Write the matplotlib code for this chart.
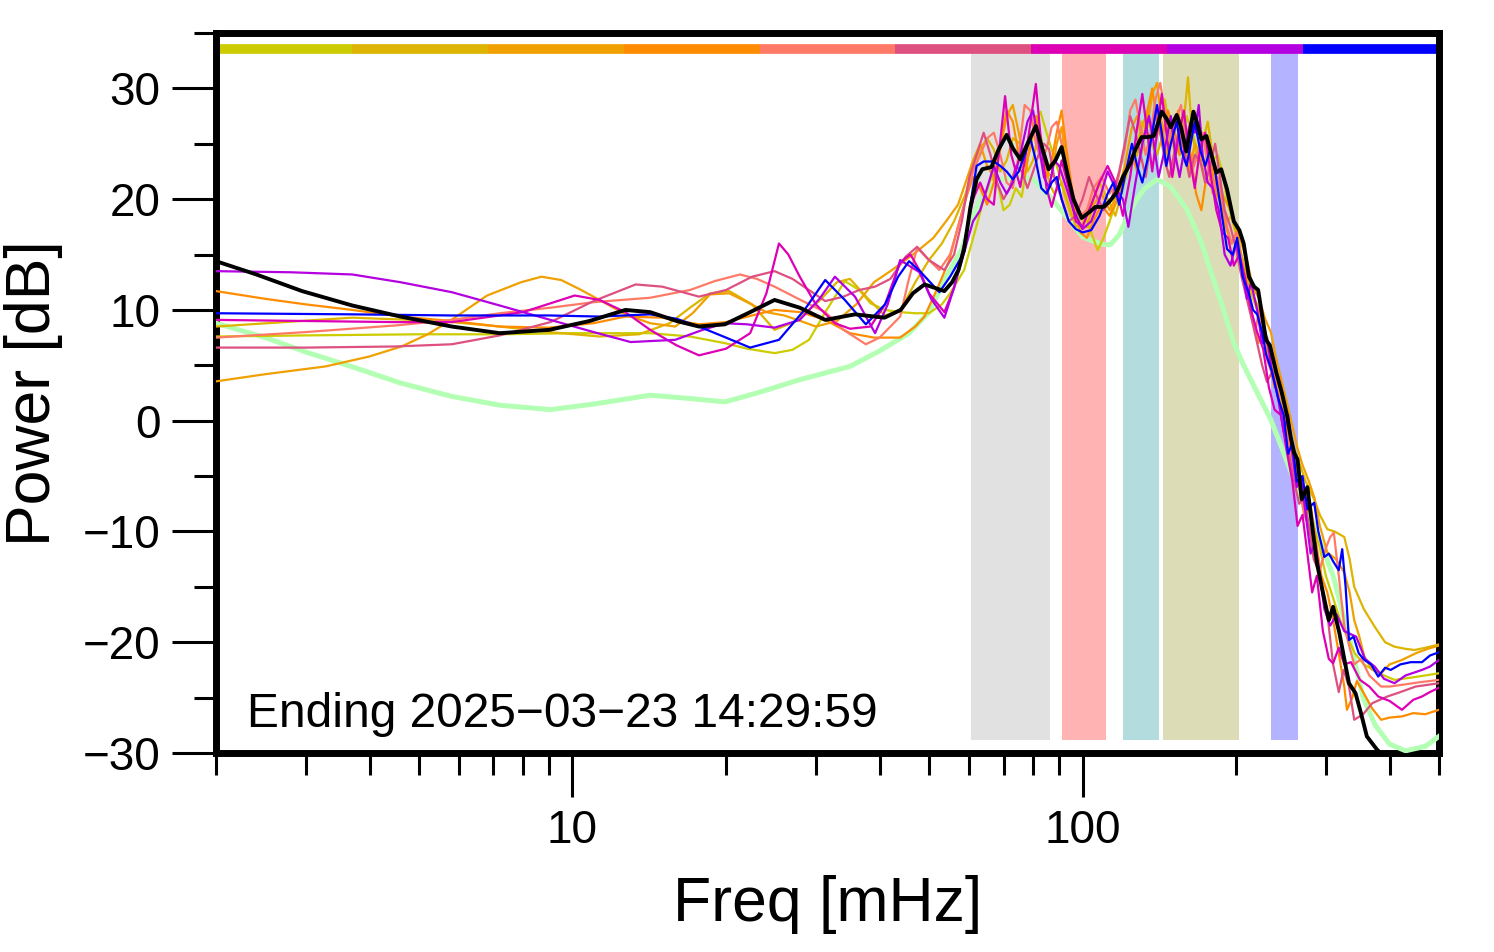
import numpy as np
import matplotlib
matplotlib.use("Agg")
import matplotlib.pyplot as plt
from matplotlib.ticker import FixedLocator, NullFormatter

plt.rcParams['font.family'] = ['Liberation Sans', 'DejaVu Sans']

# ---------------- data (freq in mHz, power in dB) ----------------
black_f = [2.0, 2.4, 2.95, 3.7, 4.6, 5.8, 7.2, 9.0, 10.8, 12.7, 14.2, 16, 17.7, 19.9, 22.3, 24.9, 27.9,
           31.3, 35.8, 40.9, 44, 46.5, 49, 53.6, 55.5, 57.1, 58.6, 60.3, 62, 63.6, 66.3, 68.5, 71, 73,
           75.5, 78, 81, 83.5, 85.8, 88.5, 91, 93.5, 96, 99.6, 103, 106, 110, 113, 116.6, 120, 124.3,
           127, 130.6, 134, 138, 143, 146, 149, 153, 156, 159.8, 162, 165, 168, 171, 175, 179, 183,
           187, 192, 198, 203, 207, 212, 217, 221, 225, 229, 233, 240, 246, 252, 256, 260, 264, 269,
           276, 282, 288, 296, 304, 310, 319, 326, 333, 343, 352, 361, 378, 395]
black_db = [14.4, 13.2, 11.7, 10.4, 9.4, 8.5, 7.9, 8.2, 9.0, 10.0, 9.8, 9.0, 8.5, 8.7, 9.8, 10.9, 10.2,
            9.1, 9.6, 9.3, 10.0, 11.5, 12.3, 11.7, 12.5, 13.6, 15.5, 19.3, 21.8, 22.7, 22.9, 24.5, 25.8,
            24.6, 23.6, 25.0, 26.6, 24.5, 22.7, 23.5, 24.7, 22.2, 20.0, 18.3, 18.8, 19.3, 19.3, 19.8,
            20.6, 22.0, 23.3, 24.5, 25.6, 25.6, 25.7, 27.9, 27.3, 26.5, 27.6, 26.5, 24.3, 25.8, 27.9,
            26.8, 25.4, 25.7, 24.0, 22.4, 22.7, 20.9, 18.0, 17.2, 16.0, 13.0, 12.1, 11.8, 9.5, 7.3,
            6.8, 4.3, 2.5, 0.4, -1.5, -2.9, -3.5, -7.1, -6.0, -9.5, -12.8, -15.5, -18.0, -16.8, -19.2,
            -21.5, -23.7, -24.6, -26.5, -28.5, -29.7, -30.5]

green_f = [2.0, 2.5, 3.0, 3.68, 4.6, 5.79, 7.2, 9.05, 11, 14.2, 17, 19.9, 23, 27.9, 35, 40, 45.7, 50,
           54, 58, 61, 64, 69, 75.5, 80, 86.5, 93, 100, 105, 110, 113.5, 118, 122, 127, 132, 140, 149,
           160, 171, 178, 186, 198, 207, 217, 234, 248, 263, 285, 310, 335, 355, 375, 400, 430, 470, 500]
green_db = [8.8, 7.5, 6.2, 4.9, 3.4, 2.2, 1.4, 1.0, 1.5, 2.3, 2.0, 1.7, 2.5, 3.7, 4.9, 6.3, 7.9, 9.8,
            13.0, 15.5, 18.5, 20.5, 21.8, 22.0, 21.8, 20.2, 18.4, 16.6, 16.2, 15.9, 15.9, 16.8, 18.2,
            19.8, 20.9, 21.8, 21.1, 19.1, 16.1, 13.6, 11.0, 7.0, 5.0, 3.1, 0.1, -2.9, -6.0, -9.5, -14.0,
            -20.0, -25.0, -27.5, -29.2, -29.8, -29.4, -28.5]

ygreen_f = [2, 3, 5, 7.2, 10, 14.2, 17, 19.9, 22, 24.9, 27, 29.1, 31.5, 34.2, 36.5, 38.4, 41, 43.9, 47,
            50, 53, 55, 58.6, 61.9, 64, 66.3, 68.5, 70, 72, 74, 76, 78, 80, 82.7, 85, 87, 89.8, 92, 95,
            98, 101, 104, 107, 110, 113, 116, 120, 124, 128, 131, 134, 138, 142, 145, 148, 152, 156,
            160, 164, 168, 172, 176, 180, 184, 188, 192, 197, 202, 207, 212, 218, 224, 230, 236, 242,
            248, 254, 260, 268, 276, 284, 292, 300, 310, 320, 330, 342, 356, 372, 390, 409, 440, 470, 500]
ygreen_db = [7.6, 7.7, 7.8, 7.8, 7.9, 7.9, 7.6, 7.0, 6.5, 6.1, 6.4, 7.3, 10.0, 12.6, 11.8, 10.6, 10.0,
             9.8, 9.7, 9.7, 10.5, 11.5, 13.6, 17.5, 20.0, 22.0, 21.0, 19.0, 19.5, 21.0, 20.2, 23.5,
             26.5, 27.9, 26.0, 24.5, 22.4, 20.5, 18.5, 18.0, 18.5, 17.0, 15.4, 16.5, 18.0, 19.5, 21.5,
             23.5, 25.0, 27.0, 26.0, 24.5, 27.0, 29.0, 26.5, 24.0, 25.5, 27.5, 26.0, 24.5, 25.5, 24.0,
             23.5, 24.0, 22.5, 20.0, 18.0, 16.0, 14.0, 12.0, 10.5, 9.0, 7.0, 5.0, 3.0, 1.0, -1.5, -3.0,
             -5.5, -7.5, -9.5, -11.5, -14.0, -16.0, -18.0, -19.5, -21.0, -22.0, -22.5, -23.0, -23.4,
             -23.2, -23.0, -22.8]

gold_f = [2, 3.7, 5.5, 7.2, 9, 11.3, 13.5, 15.5, 17, 18.6, 20.3, 22.5, 24.9, 27.5, 30.6, 33, 35, 38, 41,
          44, 47, 50, 53, 56, 59, 61, 63, 65, 67, 69, 71, 73, 75.5, 78, 80, 82, 84, 86, 88, 91, 94, 97,
          100, 104, 108, 112, 116, 120, 124, 128, 131, 134, 137, 140, 144, 148, 151, 155, 158, 161, 164,
          168, 172, 176, 180, 184, 188, 192, 196, 200, 205, 210, 215, 220, 225, 230, 236, 242, 248, 254,
          260, 267, 274, 284.6, 292, 302, 312, 326, 334, 341, 356, 374, 392, 409, 430, 448, 470, 500]
gold_db = [8.5, 9.3, 9.0, 8.5, 8.0, 7.6, 7.8, 8.8, 10.2, 11.5, 11.7, 10.5, 8.2, 9.0, 10.9, 12.5, 12.8,
           11.0, 9.5, 10.0, 12.5, 14.5, 16.0, 18.0, 20.5, 23.0, 24.5, 25.5, 24.5, 22.5, 23.5, 25.5, 25.0,
           22.5, 23.5, 26.0, 24.0, 21.5, 20.5, 21.5, 19.5, 17.5, 17.8, 19.5, 21.5, 20.0, 18.5, 21.0,
           23.5, 24.0, 26.5, 28.0, 25.5, 24.0, 26.0, 27.5, 25.0, 24.0, 27.0, 31.0, 26.0, 23.5, 25.0,
           27.0, 24.0, 21.0, 19.5, 18.0, 18.5, 17.0, 15.0, 13.0, 11.5, 10.5, 9.0, 7.5, 5.5, 3.5, 1.0,
           -0.5, -2.5, -4.0, -5.5, -7.1, -8.5, -9.8, -10.0, -10.5, -12.5, -15.0, -17.0, -18.6, -20.0,
           -20.4, -20.6, -20.7, -20.5, -20.2]

orange_f = [2, 2.5, 3.28, 4.0, 4.62, 5.2, 5.79, 6.8, 7.93, 8.69, 9.5, 10.3, 11.3, 12.7, 14.2, 15.9, 17.2,
            18.6, 20.3, 22, 24, 26, 28, 30, 33, 36, 39, 42, 45, 48, 51, 54, 57, 59, 61, 63, 65, 67, 69,
            71, 73, 75, 77, 79, 81, 83, 85, 87, 89, 91, 93, 96, 99, 102, 105, 109, 113, 117, 121, 125,
            128, 131, 134, 137, 140, 143, 146, 150, 154, 158, 162, 166, 170, 174, 178, 182, 186, 190,
            195, 200, 205, 210, 216, 222, 228, 234, 240, 246, 252, 258, 264, 270, 278, 285, 292, 302,
            314, 326, 334, 341, 349, 357, 370, 385, 400, 423, 450, 475, 500]
orange_db = [3.55, 4.2, 4.9, 5.8, 6.7, 7.8, 9.1, 11.3, 12.5, 13.0, 12.7, 11.9, 10.9, 9.6, 8.8, 8.5, 9.7,
             11.4, 11.5, 10.7, 9.8, 9.5, 9.0, 8.5, 9.0, 10.5, 12.5, 13.5, 14.5, 15.5, 16.5, 18.0, 19.5,
             21.5, 23.5, 25.0, 23.0, 22.0, 24.5, 27.5, 28.5, 26.0, 23.0, 24.5, 27.5, 25.5, 22.5, 22.0,
             25.0, 26.5, 23.0, 19.5, 17.5, 17.5, 19.5, 20.5, 19.0, 20.5, 23.0, 26.5, 27.5, 25.0, 26.5,
             29.5, 30.5, 27.0, 24.0, 26.0, 28.0, 25.0, 22.5, 25.0, 24.0, 21.5, 23.0, 22.5, 21.0, 20.0,
             19.0, 17.5, 16.0, 14.5, 12.0, 11.0, 9.2, 8.0, 5.5, 3.5, 1.5, -0.5, -2.5, -4.0, -5.5, -7.0,
             -9.5, -11.9, -12.5, -13.7, -15.5, -18.0, -19.5, -21.3, -22.5, -22.8, -22.0, -21.6, -21.0,
             -20.6, -20.3]

dorange_f = [2, 2.5, 3.0, 3.7, 4.6, 5.8, 7.2, 9, 11, 12.7, 15, 17.7, 20, 22.5, 24.9, 28, 31.3, 35, 39,
             43.9, 47, 49, 52, 54.8, 57, 59, 61, 63, 65, 67, 69, 71, 73, 75, 77, 79, 81, 83, 85, 87, 89,
             91, 93, 96, 99, 102, 105, 109, 113, 117, 121, 125, 128, 131, 134, 137, 140, 143, 147, 151,
             155, 159, 163, 167, 171, 175, 179, 183, 187, 191, 196, 201, 206, 211, 216, 221, 226, 232,
             238, 244, 250, 256, 262, 268, 274, 280, 287, 294, 302, 310, 318, 326, 330, 338, 345, 355,
             370, 385, 400, 423, 445, 470, 500]
dorange_db = [11.7, 11.0, 10.5, 10.0, 9.4, 9.0, 8.5, 8.4, 8.8, 9.4, 9.3, 8.7, 8.9, 9.5, 10.0, 9.8, 9.1,
              7.9, 7.5, 7.5, 8.5, 9.4, 12.0, 14.5, 17.5, 20.0, 22.0, 21.0, 19.5, 21.5, 25.0, 28.0, 27.0,
              24.0, 22.0, 25.0, 27.5, 25.0, 22.0, 23.5, 26.0, 28.0, 24.5, 20.0, 17.0, 16.5, 18.0, 19.5,
              18.5, 20.0, 22.5, 24.0, 22.5, 24.5, 28.0, 30.0, 27.0, 25.5, 28.0, 26.5, 24.0, 26.0, 24.0,
              20.5, 19.0, 22.0, 23.0, 20.5, 19.5, 17.5, 16.0, 17.0, 14.0, 12.0, 9.0, 7.0, 8.0, 5.5, 3.0,
              4.0, 0.0, -2.5, -4.0, -6.5, -8.5, -7.5, -11.0, -14.0, -15.5, -18.0, -21.0, -24.0, -26.1,
              -25.0, -23.5, -24.5, -26.0, -27.0, -26.8, -26.7, -26.4, -26.5, -26.1]

salmon_f = [2, 3, 4.5, 5.8, 7.2, 9.05, 11, 14.2, 17, 19, 21.3, 23, 24.9, 28, 31.3, 34, 37.6, 40, 43.9,
            45.5, 47.4, 50, 52.4, 55, 57, 59, 61, 63, 65, 67, 69, 71, 73, 75, 77, 79, 81, 83, 85, 87, 89,
            91, 93, 96, 99, 102, 105, 109, 113, 117, 121, 124, 127, 130, 133, 136, 139, 142, 145, 148,
            152, 156, 160, 164, 168, 172, 176, 180, 184, 188, 192, 196, 200, 205, 210, 214, 218, 222,
            226, 230, 236, 242, 248, 254, 260, 266, 272, 278, 285, 292, 300, 306, 311, 318, 326, 334,
            341, 352, 365, 385, 400, 430, 460, 500]
salmon_db = [7.5, 8.0, 8.6, 9.1, 9.7, 10.2, 10.7, 11.1, 11.8, 12.6, 13.2, 12.8, 12.1, 10.9, 9.8, 8.2,
             6.9, 7.5, 9.4, 12.5, 15.6, 14.5, 13.6, 15.0, 17.5, 20.0, 22.5, 24.0, 25.5, 26.0, 24.0, 21.5,
             21.0, 24.0, 28.5, 28.0, 25.0, 23.5, 24.5, 26.5, 27.0, 25.0, 22.0, 20.0, 18.5, 19.0, 21.0,
             22.0, 20.5, 21.5, 24.5, 28.0, 29.0, 26.5, 24.0, 26.0, 29.0, 30.5, 28.0, 25.5, 27.0, 28.5,
             25.0, 22.5, 24.0, 26.0, 23.0, 20.5, 22.0, 20.0, 17.5, 16.0, 17.0, 14.5, 12.0, 10.0, 8.0,
             10.0, 8.5, 5.5, 4.0, 2.5, -0.5, -2.0, -4.5, -6.0, -8.5, -9.5, -11.0, -13.5, -11.5, -10.5,
             -10.1, -14.0, -18.5, -20.5, -22.0, -21.5, -23.0, -24.0, -24.0, -23.8, -23.6, -23.4]

pink_f = [2, 3, 4.5, 5.8, 7.2, 9.05, 11, 13.3, 15, 17.7, 20, 22.5, 24.9, 27, 31.3, 34, 36.5, 39.2, 42,
          45, 47.4, 50, 53.6, 56, 58, 60, 62, 64, 66, 68, 70, 72, 74, 76, 78, 80, 82, 84, 86, 88, 91,
          94, 97, 100, 103, 106, 110, 114, 118, 121, 124, 127, 130, 133, 136, 139, 142, 145, 148, 151,
          155, 158, 162, 166, 170, 174, 178, 182, 186, 190, 195, 200, 205, 210, 215, 220, 225, 230, 236,
          242, 248, 254, 260, 266, 272, 278, 284, 290, 296, 303, 310, 318, 325, 333, 341, 355, 370, 396,
          420, 450, 500]
pink_db = [6.6, 6.6, 6.7, 6.9, 7.7, 8.9, 10.8, 12.3, 12.1, 11.2, 11.8, 13.0, 13.5, 12.8, 10.8, 11.2,
           11.8, 12.1, 12.8, 14.8, 15.7, 14.5, 13.6, 15.0, 18.0, 22.0, 24.0, 26.0, 24.0, 21.5, 20.0,
           21.0, 23.0, 22.5, 21.0, 22.5, 24.0, 25.0, 24.5, 22.0, 20.0, 18.0, 18.5, 20.0, 22.0, 20.5,
           19.0, 20.0, 22.5, 25.0, 27.5, 26.0, 24.0, 22.0, 25.0, 28.0, 26.0, 23.5, 22.0, 24.0, 26.5,
           24.5, 22.0, 24.0, 23.5, 21.5, 23.0, 25.0, 22.0, 19.0, 17.5, 15.5, 13.0, 11.0, 9.0, 7.0, 5.0,
           3.5, 4.5, 2.0, -1.0, -3.0, -5.5, -7.5, -7.0, -9.5, -12.5, -13.5, -15.5, -18.0, -22.0, -24.5,
           -22.5, -24.0, -27.0, -26.5, -25.5, -24.9, -24.5, -24.0, -23.7]

magenta_f = [2, 3, 4.5, 5.8, 8, 10.1, 11.3, 12.7, 14.2, 16, 17.7, 20, 22.3, 24, 25.4, 26.5, 27.9, 30,
             32.7, 35, 38.4, 41, 43.9, 46, 48, 50, 53.6, 56, 58.6, 61, 63, 65, 67, 68.5, 70.5, 72.5, 75.5,
             78, 81, 83, 85, 87, 89, 91, 94, 97, 100, 104, 108, 112, 116, 120, 124, 128, 131, 134, 137,
             140, 143, 146, 150, 154, 158, 162, 166, 170, 174, 178, 183, 188, 193, 198, 203, 208, 214,
             220, 226, 232, 238, 245, 252, 258, 264, 270, 276, 282, 288, 296, 304, 310, 318, 326, 336,
             350, 365, 380, 400, 423, 445, 463, 480, 500]
magenta_db = [9.1, 9.0, 8.9, 8.9, 9.8, 11.3, 10.9, 9.8, 8.2, 6.8, 5.9, 6.5, 7.9, 11.5, 16.0, 15.0, 13.0,
              10.5, 8.8, 8.3, 8.5, 10.5, 14.3, 15.0, 13.5, 11.5, 9.8, 12.0, 16.0, 20.0, 21.5, 20.0,
              19.5, 24.0, 29.3, 24.0, 21.1, 25.0, 30.4, 25.0, 21.0, 19.3, 21.0, 23.5, 21.0, 18.0, 17.5,
              19.5, 21.5, 23.0, 21.5, 18.5, 22.0, 26.5, 29.5, 26.0, 22.5, 26.0, 29.5, 26.0, 22.0, 25.5,
              28.0, 24.0, 21.0, 24.5, 26.0, 22.5, 19.0, 17.0, 16.5, 14.0, 15.0, 13.0, 10.0, 8.0, 6.5,
              3.0, 1.0, 0.5, -3.0, -5.5, -9.5, -8.5, -12.0, -15.5, -14.0, -19.0, -21.5, -21.9, -20.5,
              -22.0, -21.8, -23.4, -24.0, -24.9, -25.3, -26.1, -25.2, -24.9, -24.5, -24.1]

purple_f = [2, 2.8, 3.7, 4.6, 5.8, 7.2, 9.05, 11, 13.0, 15.9, 18, 19.9, 22, 24.9, 27.9, 30.5, 32.7, 35.8,
            39.2, 41.5, 43.9, 47.9, 50.5, 53.6, 56, 58.6, 61, 63, 65, 67, 69, 71, 73, 75.5, 78, 80, 82,
            84, 86, 88, 90, 93, 96, 100, 104, 108, 112, 116, 120, 123, 127, 131, 135, 138, 141, 145, 149,
            152, 155, 159, 163, 166, 169, 172, 176, 180, 185, 190, 195, 200, 205, 210, 214, 220, 225, 230,
            236, 242, 248, 253, 258, 263, 268, 274, 280, 286, 292, 298, 306, 315, 326, 344, 358, 374,
            390, 409, 430, 463, 480, 500]
purple_db = [13.5, 13.4, 13.2, 12.5, 11.6, 10.4, 9.1, 8.0, 7.1, 7.3, 8.2, 8.8, 8.7, 8.4, 9.1, 11.0, 13.0,
             11.2, 7.9, 10.5, 14.5, 13.4, 11.0, 9.3, 12.0, 15.2, 18.0, 19.0, 21.0, 23.0, 21.5, 20.5,
             21.5, 24.0, 27.0, 28.0, 25.0, 22.0, 21.0, 23.5, 23.0, 21.0, 19.0, 17.3, 18.0, 20.0, 22.5,
             21.0, 20.0, 17.5, 21.5, 25.0, 27.5, 25.0, 22.0, 24.5, 27.5, 24.0, 22.0, 25.0, 27.0, 26.0,
             28.5, 24.0, 21.5, 21.0, 19.0, 15.0, 14.0, 16.0, 14.0, 11.0, 12.5, 10.0, 7.0, 7.5, 4.0, 2.0,
             -1.0, 0.5, -3.0, -6.0, -5.0, -8.5, -12.0, -11.0, -14.0, -17.0, -18.5, -17.5, -19.0, -19.5,
             -21.5, -22.2, -23.3, -23.7, -23.0, -22.5, -22.2, -21.6]

blue_f = [2, 3.7, 5.8, 9, 11.3, 14.2, 16, 17.7, 20, 22.3, 25.4, 28.5, 31.3, 34.2, 37.6, 41, 43.5, 45.7,
          48, 52.4, 55, 58.6, 60.5, 62, 64, 67, 69, 71, 73, 75, 77, 79, 81, 83, 85, 87, 89, 91, 94, 97,
          100, 104, 108, 112, 115, 118, 121, 125, 128, 131, 134, 137, 140, 143, 146, 149, 153, 156, 160,
          163, 166, 170, 174, 178, 182, 187, 192, 197, 201, 206, 212, 216, 220, 225, 229, 235, 242, 248,
          253, 258, 263, 270, 276, 284.6, 290, 298, 304, 311, 318, 323, 328, 333, 340, 348, 357, 368,
          380, 392, 402, 420, 440, 463, 480, 500]
blue_db = [9.7, 9.6, 9.5, 9.5, 9.4, 9.6, 9.2, 8.5, 7.5, 6.6, 7.3, 10.0, 12.7, 10.9, 8.7, 10.5, 13.0,
           14.4, 13.5, 11.6, 13.0, 15.2, 20.0, 23.0, 23.4, 23.4, 23.0, 22.5, 21.8, 22.5, 24.0, 25.5,
           23.5, 21.0, 20.5, 21.5, 22.0, 20.0, 18.0, 17.3, 17.0, 17.2, 18.5, 20.5, 21.5, 19.5, 22.0,
           25.0, 23.0, 21.5, 23.5, 26.0, 28.5, 26.0, 23.0, 25.0, 27.0, 24.5, 23.0, 25.0, 27.0, 24.5,
           23.0, 24.5, 22.5, 19.0, 15.5, 15.0, 16.5, 13.0, 11.5, 10.0, 9.6, 8.0, 6.0, 4.5, 2.0, 0.5,
           -3.0, -2.0, -5.5, -5.0, -8.0, -7.4, -10.0, -12.3, -12.0, -12.8, -13.5, -11.6, -15.0, -19.8,
           -19.5, -21.0, -21.6, -22.0, -23.1, -22.3, -22.5, -22.0, -21.8, -21.8, -21.2, -20.9]

series = [
    (ygreen_f, ygreen_db, '#cccc00'),
    (gold_f, gold_db, '#ddb400'),
    (orange_f, orange_db, '#f0a000'),
    (dorange_f, dorange_db, '#ff8c00'),
    (salmon_f, salmon_db, '#ff7a66'),
    (pink_f, pink_db, '#dd5080'),
    (magenta_f, magenta_db, '#dd00b4'),
    (purple_f, purple_db, '#b400e0'),
    (blue_f, blue_db, '#0000ff'),
]
bar_colors = ['#cccc00', '#ddb400', '#f0a000', '#ff8c00', '#ff7a66', '#dd5080', '#dd00b4', '#b400e0', '#0000ff']

bands = [(60.5, 86.5, '#e1e1e1'), (91, 111, '#ffb3b3'), (120, 141.5, '#b3dcdf'),
         (143.5, 203, '#dcdcb6'), (234, 265, '#b3b3ff')]

x_major = [10, 100]
x_minor = [2, 3, 4, 5, 6, 7, 8, 9, 20, 30, 40, 50, 60, 70, 80, 90, 200, 300, 400, 500]
y_major = [-30, -20, -10, 0, 10, 20, 30]
y_minor = [-25, -15, -5, 5, 15, 25, 35]

# ---------------- figure ----------------
fig = plt.figure(figsize=(14.94, 9.52), dpi=100)
ax = fig.add_axes([216/1494, 1-753/952, 1223/1494, 720/952])
ax.set_xscale('log')
ax.set_xlim(2, 500)
ax.set_ylim(-30, 35)

for lo, hi, c in bands:
    ax.axvspan(lo, hi, ymin=0.018, ymax=0.974, color=c, lw=0, zorder=1)

edges = np.geomspace(2, 500, len(bar_colors) + 1)
for i, c in enumerate(bar_colors):
    ax.hlines(33.6, edges[i], edges[i+1], colors=c, linewidth=7.0, zorder=2)

ax.plot(green_f, green_db, color='#b3ffb3', lw=3.6, zorder=3, solid_joinstyle='round')
for f, d, c in series:
    ax.plot(f, d, color=c, lw=1.6, zorder=4)
ax.plot(black_f, black_db, color='black', lw=2.8, zorder=5)

ax.text(0.025, 0.036, 'Ending 2025\u221203\u221223 14:29:59', transform=ax.transAxes,
        fontsize=34.5, va='baseline', ha='left')

for s in ax.spines.values():
    s.set_linewidth(5)
ax.xaxis.set_major_locator(FixedLocator(x_major))
ax.xaxis.set_minor_locator(FixedLocator(x_minor))
ax.xaxis.set_minor_formatter(NullFormatter())
ax.set_xticklabels(['10', '100'])
ax.yaxis.set_major_locator(FixedLocator(y_major))
ax.yaxis.set_minor_locator(FixedLocator(y_minor))
ax.tick_params(which='major', direction='out', length=32, width=2.2, labelsize=33, pad=8)
ax.tick_params(which='minor', direction='out', length=16, width=2.2)

ax.set_xlabel('Freq [mHz]', fontsize=45, labelpad=16)
ax.set_ylabel('Power [dB]', fontsize=45, labelpad=14)

fig.savefig('out.png', dpi=100)
